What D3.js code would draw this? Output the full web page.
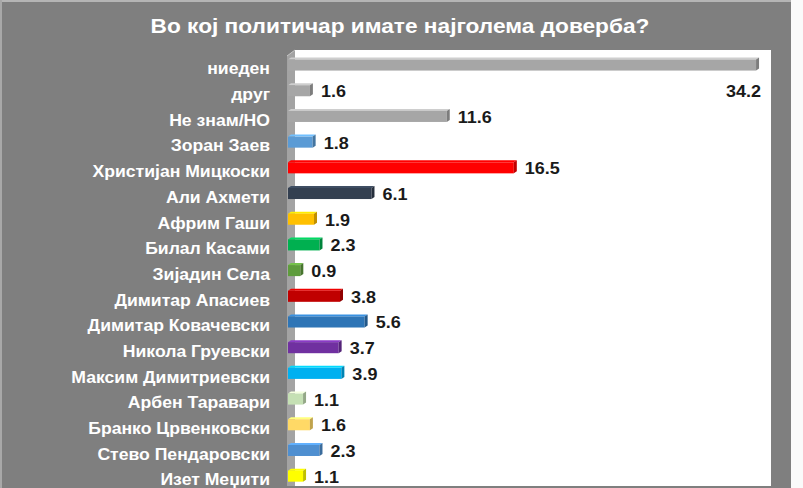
<!DOCTYPE html>
<html>
<head>
<meta charset="utf-8">
<script src="https://cdn.jsdelivr.net/npm/d3@7"></script>
<style>
  html, body { margin: 0; padding: 0; background: #fff; }
  svg { display: block; font-family: "Liberation Sans", Arial, sans-serif; }
</style>
</head>
<body>
<svg id="chart" width="803" height="488"></svg>
<script>
// chart data
const title = "Во кој политичар имате најголема доверба?";
const categories = [
  "ниеден", "друг", "Не знам/НО", "Зоран Заев", "Христијан Мицкоски",
  "Али Ахмети", "Африм Гаши", "Билал Касами", "Зијадин Села",
  "Димитар Апасиев", "Димитар Ковачевски", "Никола Груевски",
  "Максим Димитриевски", "Арбен Таравари", "Бранко Црвенковски",
  "Стево Пендаровски", "Изет Меџити"
];
const values = [34.2, 1.6, 11.6, 1.8, 16.5, 6.1, 1.9, 2.3, 0.9, 3.8, 5.6, 3.7, 3.9, 1.1, 1.6, 2.3, 1.1];

// palette, one per bar
const palette = [
  "#a6a6a6", "#a6a6a6", "#a6a6a6", "#5b9bd5", "#ff0000",
  "#333f50", "#ffc000", "#00b050", "#5e9c3c",
  "#c00000", "#2e75b6", "#7030a0",
  "#00b0f0", "#c5e0b4", "#ffd966",
  "#4f8fd0", "#ffff00"
];

const svg = d3.select("#chart");
const W = +svg.attr("width"), H = +svg.attr("height");
const stretch = 1.08; // the picture is a bit wider than the fonts

// background frame
svg.append("rect").attr("width", W).attr("height", H).attr("fill", "#7f7f7f");
svg.append("rect").attr("x", 0).attr("y", 0).attr("width", W).attr("height", 2).attr("fill", "#b5b5b5");
svg.append("rect").attr("x", 0).attr("y", 0).attr("width", 2).attr("height", H).attr("fill", "#a8a8a8");
svg.append("rect").attr("x", 791).attr("y", 0).attr("width", W - 791).attr("height", H).attr("fill", "#fafafa");

// plot area
const plot = { left: 295, top: 50, right: 771, bottom: 486 };
svg.append("rect")
  .attr("x", plot.left).attr("y", plot.top)
  .attr("width", plot.right - plot.left).attr("height", plot.bottom - plot.top)
  .attr("fill", "#ffffff");

// 3d wall on the left
svg.append("polygon")
  .attr("points", [[287, 56], [295, 50], [295, plot.bottom], [287, plot.bottom]].join(" "))
  .attr("fill", "#a3a3a3");
svg.append("line")
  .attr("x1", 287).attr("y1", 56).attr("x2", 295).attr("y2", 50)
  .attr("stroke", "#c8c8c8").attr("stroke-width", 1);

svg.append("text")
  .attr("transform", `translate(400,33) scale(${stretch},1)`)
  .attr("text-anchor", "middle")
  .attr("fill", "#ffffff")
  .attr("font-size", 21)
  .attr("font-weight", "bold")
  .text(title);

const x = d3.scaleLinear().domain([0, 35]).range([288, 767]);
const y = d3.scaleBand().domain(categories).range([52.2, 489])
  .paddingInner(0.57).paddingOuter(0.285);
const color = d3.scaleOrdinal(categories, palette);

const data = categories.map((c, i) => ({ cat: c, v: values[i] }));
const bh = y.bandwidth();
const depth = 3;

// category axis labels
const yAxis = d3.axisLeft(y).tickSize(0).tickPadding(0);
const ag = svg.append("g").attr("transform", "translate(270,0)").call(yAxis);
ag.select(".domain").remove();
ag.selectAll("text")
  .attr("x", 0)
  .attr("dy", "0.57em")
  .attr("transform", `scale(${stretch},1)`)
  .attr("fill", "#ffffff")
  .attr("font-size", 16.3)
  .attr("font-weight", "bold")
  .attr("font-family", "Liberation Sans, Arial, sans-serif");

const bars = svg.append("g").selectAll("g").data(data).join("g");

// top face
bars.append("polygon")
  .attr("points", d => {
    const x0 = x(0), x1 = x(d.v), y0 = y(d.cat);
    return [[x0, y0], [x0 + depth, y0 - 2], [x1 + depth, y0 - 2], [x1, y0]].join(" ");
  })
  .attr("fill", d => d3.color(color(d.cat)).brighter(0.6));

// front face
bars.append("rect")
  .attr("x", x(0))
  .attr("y", d => y(d.cat))
  .attr("width", d => x(d.v) - x(0))
  .attr("height", bh)
  .attr("fill", d => color(d.cat));

// side face
bars.append("polygon")
  .attr("points", d => {
    const x1 = x(d.v), y0 = y(d.cat);
    return [[x1, y0], [x1 + depth, y0 - 2], [x1 + depth, y0 + bh - 2], [x1, y0 + bh]].join(" ");
  })
  .attr("fill", d => d3.color(color(d.cat)).darker(0.8));

// value labels
bars.append("text")
  .attr("transform", (d, i) => {
    const cy = y(d.cat) + bh / 2;
    const ax = i === 0 ? x(d.v) + 5 : x(d.v) + depth + 8;
    const ay = i === 0 ? cy + 32 : cy + 6.5;
    return `translate(${ax},${ay}) scale(1.06,1)`;
  })
  .attr("text-anchor", (d, i) => i === 0 ? "end" : "start")
  .attr("fill", "#1a1a1a")
  .attr("font-size", 17)
  .attr("font-weight", "bold")
  .text(d => d.v.toFixed(1));
</script>
</body>
</html>
